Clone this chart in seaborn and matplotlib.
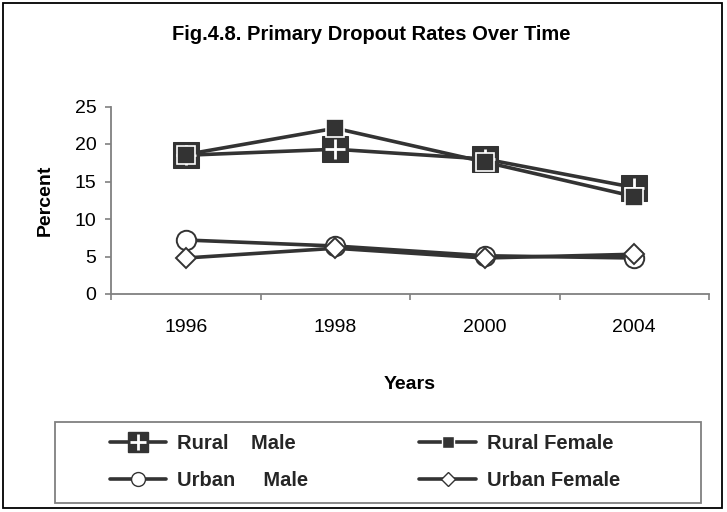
import matplotlib
matplotlib.use("Agg")
import matplotlib.pyplot as plt
from matplotlib.lines import Line2D
from matplotlib.patches import Rectangle
from matplotlib.legend_handler import HandlerTuple
import seaborn as sns

# datos
years = ["1996", "1998", "2000", "2004"]
rural_male = [18.5, 19.3, 18.0, 14.2]
rural_female = [18.6, 22.1, 17.6, 13.0]
urban_male = [7.2, 6.4, 5.1, 4.8]
urban_female = [4.8, 6.1, 4.8, 5.3]

labels = ["Rural    Male", "Rural Female", "Urban     Male", "Urban Female"]

DARK = "#333333"
GRIS = "#808080"
LW = 2.6

sns.set_theme(style="white")
plt.rcParams["font.family"] = ["Liberation Sans", "DejaVu Sans"]

fig = plt.figure(figsize=(7.27, 5.12), dpi=100)
ax = fig.add_axes([111 / 727, 1 - 294 / 512, 598 / 727, 187.5 / 512])

# Rural Male: cuadrado grande con cruz blanca
sns.lineplot(x=years, y=rural_male, ax=ax, color=DARK, lw=LW, marker="s",
             markersize=19, markerfacecolor=DARK, markeredgecolor=DARK, sort=False)
ax.plot(years, rural_male, ls="none", marker="+", markersize=14, mew=2, color="white")

# Rural Female: cuadrado relleno con borde blanco
sns.lineplot(x=years, y=rural_female, ax=ax, color=DARK, lw=LW, marker="s",
             markersize=13, markerfacecolor=DARK, markeredgecolor="white", mew=1.2,
             sort=False)

# Urban Male: circulo blanco
sns.lineplot(x=years, y=urban_male, ax=ax, color=DARK, lw=LW, marker="o",
             markersize=14, markerfacecolor="white", markeredgecolor=DARK, mew=1.4,
             sort=False)

# Urban Female: rombo blanco
sns.lineplot(x=years, y=urban_female, ax=ax, color=DARK, lw=LW, marker="D",
             markersize=10, markerfacecolor="white", markeredgecolor=DARK, mew=1.4,
             sort=False)

ax.set_xlim(-0.5, len(years) - 0.5)
ax.set_ylim(0, 25)
ax.set_yticks([0, 5, 10, 15, 20, 25])
ax.set_xticks([i - 0.5 for i in range(len(years) + 1)], minor=True)

for s in ["top", "right"]:
    ax.spines[s].set_visible(False)
for s in ["left", "bottom"]:
    ax.spines[s].set_color(GRIS)
    ax.spines[s].set_linewidth(1.3)

ax.tick_params(axis="y", which="major", left=True, length=4.5, width=1.2, color=GRIS,
               direction="out", pad=6, labelsize=14, labelcolor="black")
ax.tick_params(axis="x", which="major", bottom=True, length=0, pad=18, labelsize=14,
               labelcolor="black")
ax.tick_params(axis="x", which="minor", bottom=True, length=4.5, width=1.2, color=GRIS,
               direction="out")
ax.grid(False)

ax.set_xlabel("Years", fontsize=14, fontweight="bold", color="black")
ax.set_ylabel("Percent", fontsize=14, fontweight="bold", color="black")
ax.xaxis.set_label_coords(0.5, -0.435)
ax.yaxis.set_label_coords(-0.095, 0.5)

fig.suptitle("Fig.4.8. Primary Dropout Rates Over Time", x=371 / 727, y=1 - 35 / 512,
             va="center", fontsize=14.5, fontweight="bold", color="black")

# leyenda
h_rm = (Line2D([], [], color=DARK, lw=LW, marker="s", ms=15, mfc=DARK, mec=DARK),
        Line2D([], [], ls="none", marker="+", ms=11, mew=2, color="white"))
h_rf = Line2D([], [], color=DARK, lw=LW, marker="s", ms=8, mfc=DARK, mec="white")
h_um = Line2D([], [], color=DARK, lw=LW, marker="o", ms=10, mfc="white", mec=DARK)
h_uf = Line2D([], [], color=DARK, lw=LW, marker="D", ms=7, mfc="white", mec=DARK)

leg = fig.legend([h_rm, h_um, h_rf, h_uf], [labels[0], labels[2], labels[1], labels[3]],
                 ncol=2, loc="center left", bbox_to_anchor=(110 / 727, 1 - 462 / 512),
                 frameon=False, borderpad=0, borderaxespad=0, handlelength=2.8,
                 handletextpad=0.55, columnspacing=5.5, labelspacing=0.85,
                 prop={"size": 14.5, "weight": "bold"},
                 handler_map={tuple: HandlerTuple(ndivide=1)})

fig.patches.append(Rectangle((55 / 727, 1 - 503 / 512), 646 / 727, 81 / 512,
                             transform=fig.transFigure, fill=False, ec=GRIS, lw=1.3))
fig.patches.append(Rectangle((3 / 727, 1 - 508 / 512), 719 / 727, 505 / 512,
                             transform=fig.transFigure, fill=False, ec="black", lw=1.3))

fig.savefig("out.png", dpi=100)
